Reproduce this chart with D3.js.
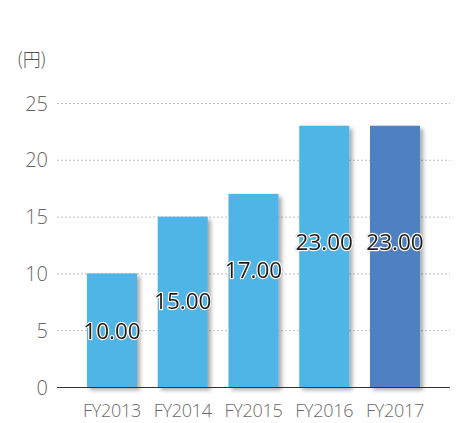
<!DOCTYPE html>
<html><head><meta charset="utf-8">
<script src="https://cdn.jsdelivr.net/npm/d3@7"></script>
<style>
html,body{margin:0;padding:0;background:#fff;}
svg{display:block;font-family:"Open Sans","Noto Sans",sans-serif;}
</style></head>
<body>
<svg id="c" width="457" height="423"></svg>
<script>
const categories = ["FY2013","FY2014","FY2015","FY2016","FY2017"];
const values = [10, 15, 17, 23, 23];
const valueLabels = ["10.00","15.00","17.00","23.00","23.00"];
const labelAnchor = [4.95, 7.6, 10.3, 12.75, 12.75];
const barColors = ["#50b4e6","#50b4e6","#50b4e6","#50b4e6","#4f80c2"];
const yTicks = [0,5,10,15,20,25];
const unitLabel = "(円)";

const svg = d3.select("#c");
const defs = svg.append("defs");
const f = defs.append("filter").attr("id","sh").attr("x","-20%").attr("y","-20%").attr("width","150%").attr("height","150%");
f.append("feDropShadow").attr("dx",3).attr("dy",3).attr("stdDeviation",2).attr("flood-color","#000").attr("flood-opacity",0.35);

const x = d3.scaleBand().domain(categories).range([76.6, 430.4]).paddingInner(0.293).paddingOuter(0.1465);
const y = d3.scaleLinear().domain([0,25]).range([387,103]);

// grid
svg.append("g").selectAll("line").data(yTicks.filter(d=>d>0)).join("line")
  .attr("x1",57).attr("x2",450).attr("y1",d=>y(d)+0.5).attr("y2",d=>y(d)+0.5)
  .attr("stroke","#bdbdbd").attr("stroke-width",1).attr("stroke-dasharray","2,2");

// y axis labels
const yAxis = d3.axisLeft(y).tickValues(yTicks).tickSize(0).tickPadding(0);
const ya = svg.append("g").attr("transform","translate(48,0)").call(yAxis);
ya.select(".domain").remove();
ya.selectAll("text").attr("font-size",20).attr("fill","#666").attr("font-weight",300)
  .attr("font-family","'Open Sans','Noto Sans',sans-serif").attr("dy","0.35em");

// bars
svg.append("g").selectAll("rect").data(values).join("rect")
  .attr("x",(d,i)=>x(categories[i])).attr("width",x.bandwidth())
  .attr("y",d=>y(d)).attr("height",d=>y(0)-y(d))
  .attr("fill",(d,i)=>barColors[i]).attr("filter","url(#sh)");

// baseline
svg.append("line").attr("x1",57).attr("x2",450).attr("y1",y(0)+0.5).attr("y2",y(0)+0.5)
  .attr("stroke","#333").attr("stroke-width",1.2);

// x axis labels
const xAxis = d3.axisBottom(x).tickSize(0).tickPadding(0);
const xa = svg.append("g").attr("transform","translate(0,404)").call(xAxis);
xa.select(".domain").remove();
xa.selectAll("text").attr("font-size",18).attr("fill","#6a6a6a").attr("font-weight",300)
  .attr("letter-spacing","-0.3px")
  .attr("font-family","'Open Sans','Noto Sans',sans-serif");

// value labels
svg.append("g").selectAll("text").data(values).join("text")
  .attr("x",(d,i)=>x(categories[i])+x.bandwidth()/2)
  .attr("y",(d,i)=>y(labelAnchor[i]))
  .attr("dy","0.36em").attr("text-anchor","middle")
  .attr("font-size",22.5).attr("font-weight",400).attr("fill","#1e1e1e")
  .attr("stroke","#fff").attr("stroke-width",2.5).attr("paint-order","stroke")
  .attr("stroke-linejoin","round")
  .style("filter","drop-shadow(0.5px 0.5px 0.7px rgba(0,0,0,0.45))")
  .text((d,i)=>valueLabels[i]);

// unit
svg.append("text").attr("x",17).attr("y",66).attr("font-size",18).attr("fill","#555")
  .attr("font-family","'Noto Sans CJK JP','Noto Sans',sans-serif").attr("font-weight",300)
  .text(unitLabel);
</script>
</body></html>
